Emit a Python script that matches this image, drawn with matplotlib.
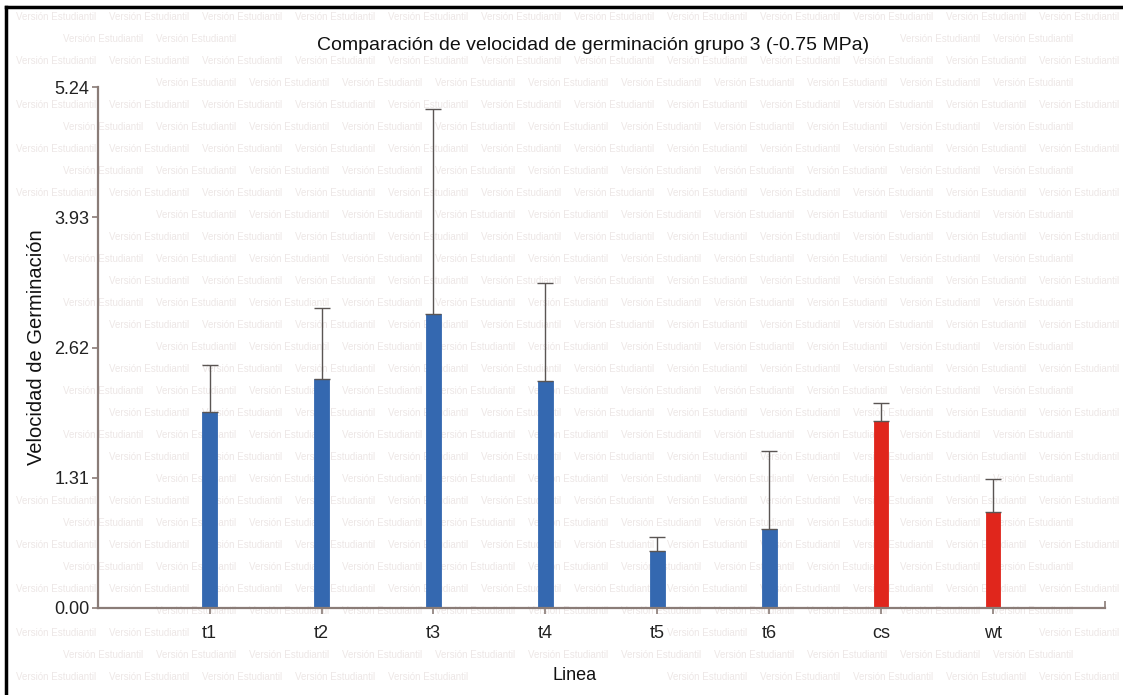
import matplotlib
matplotlib.use("Agg")
import matplotlib.pyplot as plt
import numpy as np

plt.rcParams["font.family"] = ["Liberation Sans", "DejaVu Sans"]

# data
lines = ["t1", "t2", "t3", "t4", "t5", "t6", "cs", "wt"]
speed = [1.97, 2.30, 2.96, 2.28, 0.57, 0.79, 1.88, 0.97]
err_up = [0.47, 0.72, 2.06, 0.99, 0.14, 0.79, 0.18, 0.33]
is_control = [False, False, False, False, False, False, True, True]
yticks = [0.00, 1.31, 2.62, 3.93, 5.24]

BLUE = "#3468b0"
RED = "#e0261c"
AXIS = "#8a7c77"
W, H = 1123, 695

fig = plt.figure(figsize=(W / 100, H / 100), dpi=100)

# black frame on top and left edge (cropped screenshot look)
fig.add_artist(plt.Line2D([6 / W, 1], [1 - 7 / H] * 2, color="black",
                          lw=2.5, transform=fig.transFigure))
fig.add_artist(plt.Line2D([6 / W] * 2, [0, 1 - 7 / H], color="black",
                          lw=2.5, transform=fig.transFigure))

ax = fig.add_axes([97.7 / W, 1 - 608 / H, (1105 - 97.7) / W, 521 / H])
ax.patch.set_visible(False)

x = np.arange(len(lines))
colors = [RED if c else BLUE for c in is_control]
ax.bar(x, speed, width=0.13, color=colors, edgecolor=colors, linewidth=0.6,
       zorder=2)
ax.errorbar(x, speed, yerr=[np.zeros(len(speed)), err_up], fmt="none",
            ecolor="#5a5553", elinewidth=1.0, capsize=5.5, capthick=1.0,
            zorder=3)

ax.set_xlim(-1, 8)
ax.set_ylim(0, 5.24)
ax.set_yticks(yticks)
ax.set_yticklabels([f"{v:.2f}" for v in yticks])
ax.set_xticks(x)
ax.set_xticklabels(lines)
ax.set_xticks([8], minor=True)

for side in ("top", "right"):
    ax.spines[side].set_visible(False)
for side in ("left", "bottom"):
    ax.spines[side].set_color(AXIS)
    ax.spines[side].set_linewidth(1.6)

ax.tick_params(axis="both", which="major", color=AXIS, length=4, width=1.2,
               labelsize=13, labelcolor="#222222")
ax.tick_params(axis="x", which="major", pad=8)
ax.tick_params(axis="y", which="major", pad=2)
ax.tick_params(axis="x", which="minor", direction="in", length=5, width=1.2,
               color=AXIS)

ax.set_xlabel("Linea", fontsize=13, labelpad=18, color="#111111")
ax.xaxis.label.set_x((575 - 97.7) / (1105 - 97.7))
ax.set_ylabel("Velocidad de Germinación", fontsize=14.5, labelpad=6,
              color="#111111")
title = fig.text(593 / W, 1 - 45 / H,
                 "Comparación de velocidad de germinación grupo 3 (-0.75 MPa)",
                 fontsize=14, ha="center", va="center", color="#111111")

# faint "Versión Estudiantil" watermark behind everything
marks = []
for r, yy in enumerate(np.arange(1 - 17 / H, 0.0, -22 / H)):
    off = 0.0 if r % 2 == 0 else -46 / W
    for xx in np.arange(off + 0.014, 1.0, 93 / W):
        marks.append(fig.text(xx, yy, "Versión Estudiantil", fontsize=7,
                              color="#ede7e6", ha="left", va="center",
                              zorder=-5))

# drop watermark pieces that collide with real labels or hang off the edge
fig.canvas.draw()
rend = fig.canvas.get_renderer()
keep_clear = [title, ax.xaxis.label, ax.yaxis.label]
keep_clear += ax.get_xticklabels() + ax.get_yticklabels()
clear_boxes = [t.get_window_extent(rend).expanded(1.05, 1.2) for t in keep_clear]
for m in marks:
    bb = m.get_window_extent(rend)
    if bb.x0 < 8 or bb.x1 > W - 1 or bb.y0 < 1 or bb.y1 > H - 9 or \
            any(bb.overlaps(c) for c in clear_boxes):
        m.remove()

fig.savefig("out.png", dpi=100)
